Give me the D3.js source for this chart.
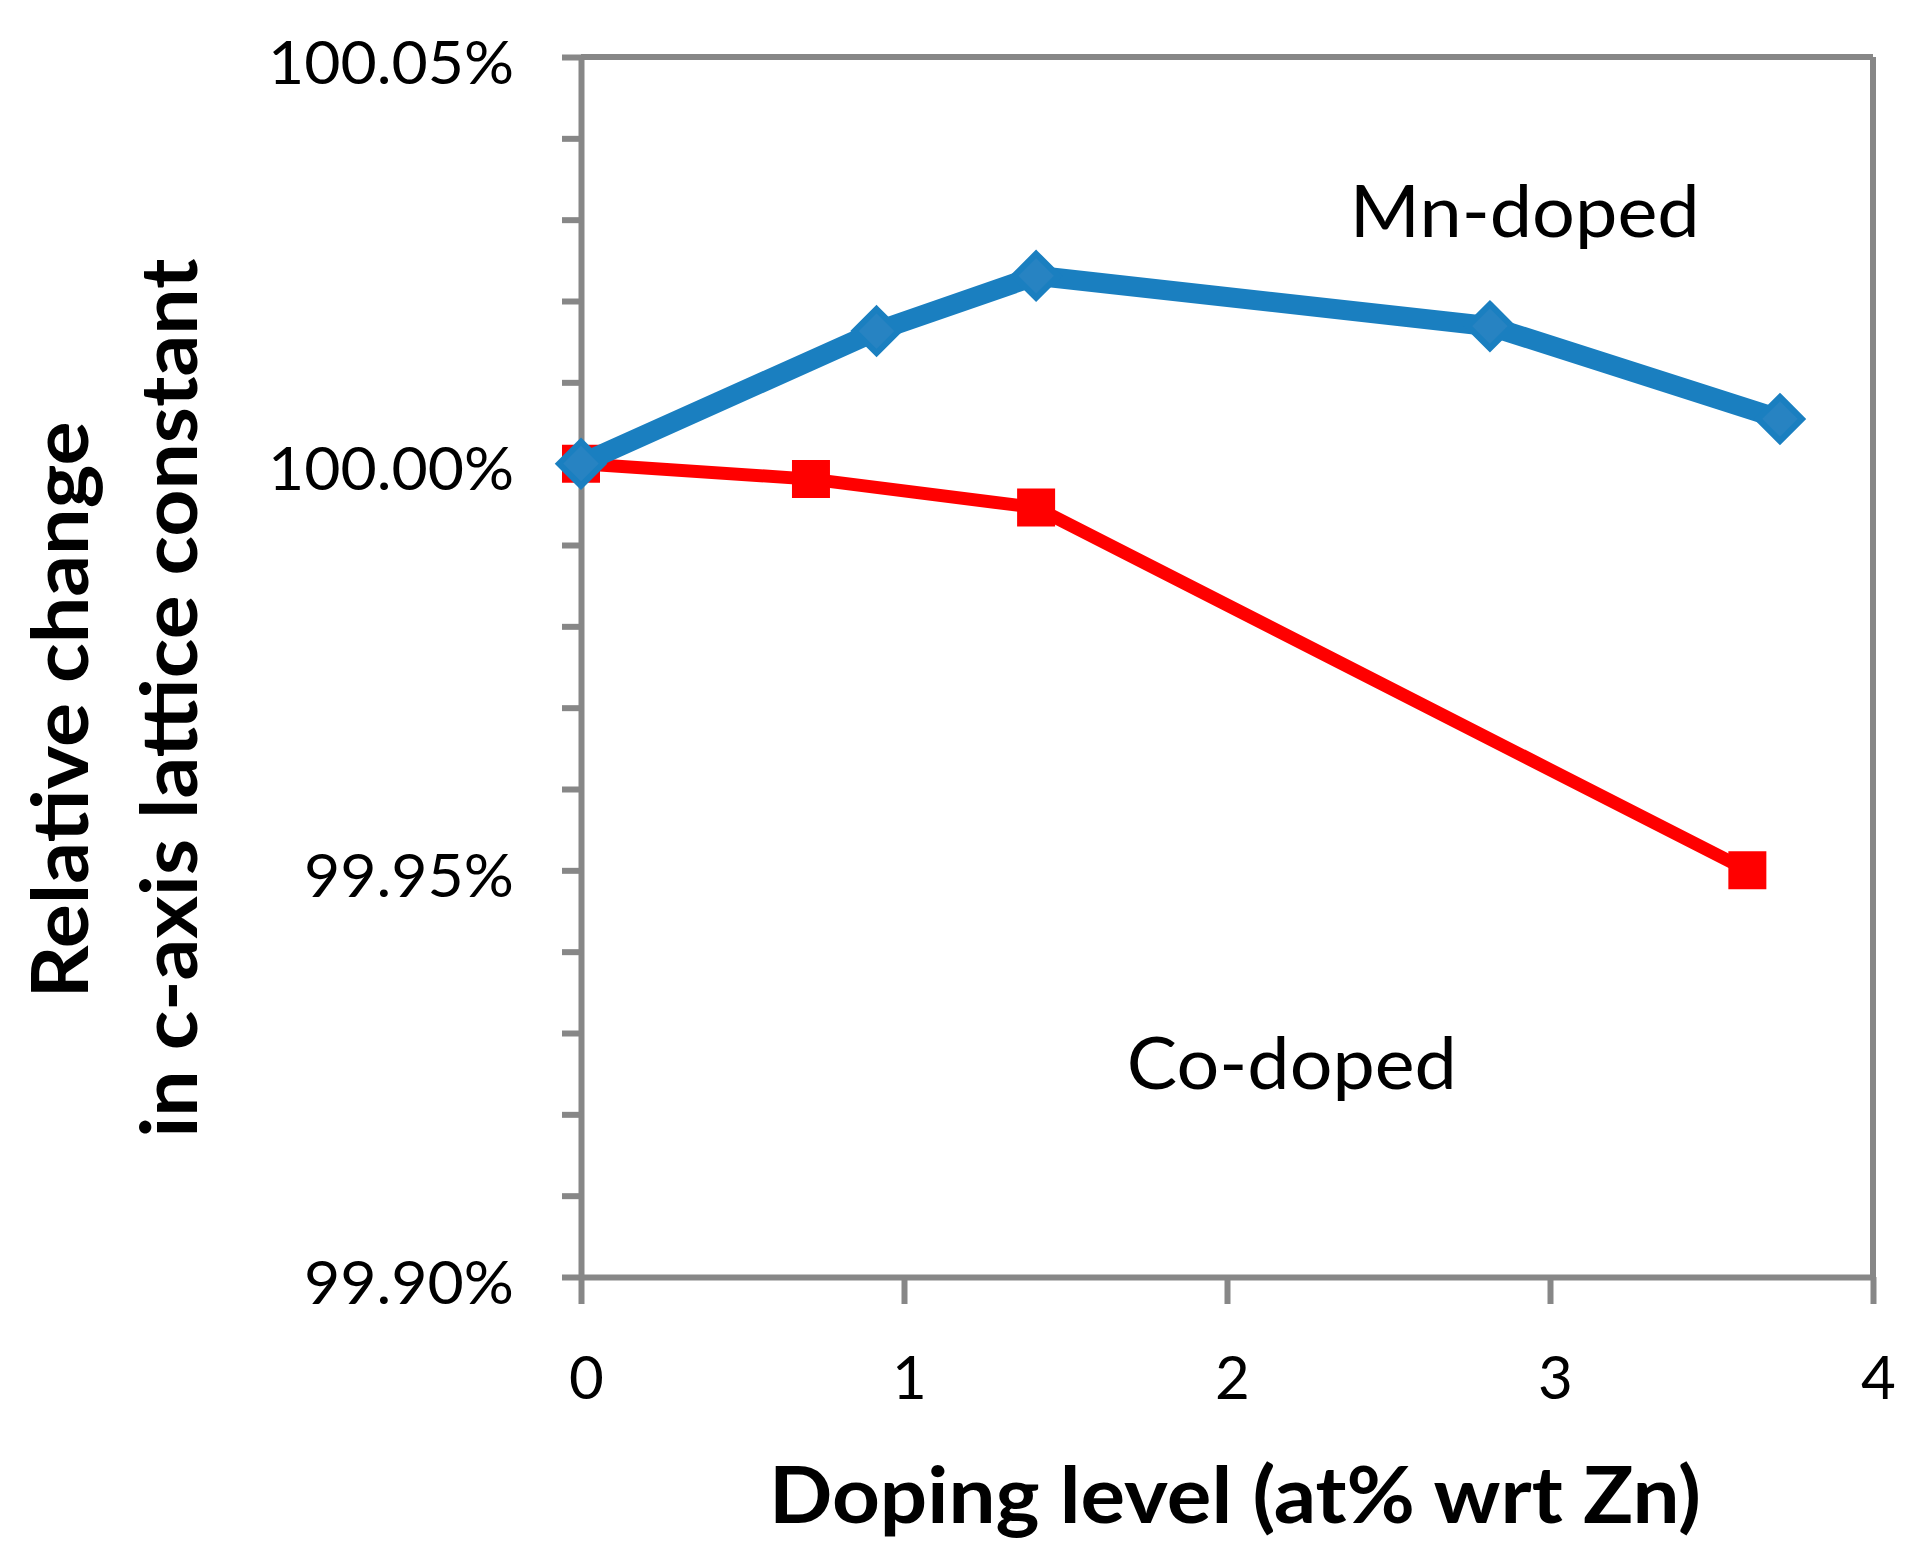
<!DOCTYPE html>
<html>
<head>
<meta charset="utf-8">
<script src="https://cdn.jsdelivr.net/npm/d3@7"></script>
<style>
  html, body { margin: 0; padding: 0; background: #ffffff; }
  svg { display: block; }
  text { font-family: Lato, "Open Sans", sans-serif; fill: #000; }
</style>
</head>
<body>
<svg id="chart" width="1919" height="1560"></svg>
<script>
// ---- data ----
const mnX = [0, 0.915, 1.409, 2.814, 3.712];
const mnY = [100.000, 100.0163, 100.0231, 100.0169, 100.0055];
const coX = [0, 0.712, 1.409, 3.611];
const coY = [100.000, 99.9981, 99.9946, 99.9500];
const xTicks = [0, 1, 2, 3, 4];
const xTickLabels = ["0", "1", "2", "3", "4"];
const yTicks = [99.90, 99.91, 99.92, 99.93, 99.94, 99.95, 99.96, 99.97, 99.98, 99.99,
                100.00, 100.01, 100.02, 100.03, 100.04, 100.05];
const yMajor = [99.90, 99.95, 100.00, 100.05];
const yMajorLabels = ["99.90%", "99.95%", "100.00%", "100.05%"];
const seriesNames = ["Mn-doped", "Co-doped"];
const seriesLabelPos = [[2.38, 100.0279], [1.69, 99.9231]];
const xTitle = "Doping level (at% wrt Zn)";
const yTitle = ["Relative change", "in c-axis lattice constant"];

// ---- layout ----
const svg = d3.select("#chart");
const L = 581, R = 1873, T = 57, B = 1277;
const axisColor = "#878787";
const blue = "#1a7fc0", blueFill = "#2783c2", red = "#ff0000";

const x = d3.scaleLinear().domain([0, 4]).range([L, R]);
const y = d3.scaleLinear().domain([99.90, 100.05]).range([B, T]);

// plot border (top & right)
const border = svg.append("g");
border.append("line").attr("x1", x(0)).attr("x2", x(4)).attr("y1", y(100.05)).attr("y2", y(100.05))
  .attr("stroke", axisColor).attr("stroke-width", 6);
border.append("line").attr("x1", x(4)).attr("x2", x(4)).attr("y1", y(100.05)).attr("y2", y(99.90))
  .attr("stroke", axisColor).attr("stroke-width", 6);

// y axis
const labelOf = d => {
  const i = yMajor.findIndex(v => Math.abs(v - d) < 1e-9);
  return i >= 0 ? yMajorLabels[i] : "";
};
const yAxis = svg.append("g").attr("transform", `translate(${L},0)`)
  .call(d3.axisLeft(y).tickValues(yTicks).tickSize(19).tickSizeOuter(0).tickPadding(48).tickFormat(labelOf));
yAxis.select(".domain").attr("stroke", axisColor).attr("stroke-width", 6);
yAxis.selectAll(".tick line").attr("stroke", axisColor).attr("stroke-width", 6);
yAxis.selectAll(".tick text")
  .attr("dy", 26).attr("font-size", 60).attr("fill", "#000")
  .style("font-family", "Lato, sans-serif")
  .each(function(d) {
    const t = labelOf(d);
    if (t) d3.select(this).attr("textLength", t.length === 7 ? 246 : 210).attr("lengthAdjust", "spacingAndGlyphs");
  });

// x axis
const xAxis = svg.append("g").attr("transform", `translate(0,${B})`)
  .call(d3.axisBottom(x).tickValues(xTicks).tickSize(27).tickSizeOuter(0)
    .tickFormat((d, i) => xTickLabels[i]));
xAxis.select(".domain").attr("stroke", axisColor).attr("stroke-width", 6);
xAxis.selectAll(".tick line").attr("stroke", axisColor).attr("stroke-width", 6);
xAxis.selectAll(".tick text")
  .attr("y", 122).attr("dy", 0).attr("dx", 5).attr("font-size", 60).attr("fill", "#000")
  .style("font-family", "Lato, sans-serif");

// ---- series ----
const coData = coX.map((v, i) => [v, coY[i]]);
const mnData = mnX.map((v, i) => [v, mnY[i]]);
const line = d3.line().x(d => x(d[0])).y(d => y(d[1]));

// Co-doped (under)
svg.append("path").datum(coData).attr("d", line)
  .attr("fill", "none").attr("stroke", red).attr("stroke-width", 13)
  .attr("stroke-linejoin", "round").attr("stroke-linecap", "round");
const sq = d3.symbol().type(d3.symbolSquare).size(38 * 38);
svg.append("g").selectAll("path").data(coData).join("path")
  .attr("d", sq).attr("transform", d => `translate(${x(d[0])},${y(d[1])})`)
  .attr("fill", red);

// Mn-doped (on top)
svg.append("path").datum(mnData).attr("d", line)
  .attr("fill", "none").attr("stroke", blue).attr("stroke-width", 20)
  .attr("stroke-linejoin", "round").attr("stroke-linecap", "round");
const diamond = "M0,-22L22,0L0,22L-22,0Z";
svg.append("g").selectAll("path").data(mnData).join("path")
  .attr("d", diamond).attr("transform", d => `translate(${x(d[0])},${y(d[1])})`)
  .attr("fill", blueFill).attr("stroke", blue).attr("stroke-width", 6).attr("stroke-linejoin", "miter");

// series labels
const labelLens = [350, 330];
svg.append("g").selectAll("text").data(seriesNames).join("text")
  .attr("x", (d, i) => x(seriesLabelPos[i][0]))
  .attr("y", (d, i) => y(seriesLabelPos[i][1]))
  .attr("font-size", 72)
  .attr("textLength", (d, i) => labelLens[i]).attr("lengthAdjust", "spacingAndGlyphs")
  .text(d => d);

// axis titles
svg.append("text")
  .attr("x", 1235).attr("y", 1523).attr("text-anchor", "middle")
  .attr("font-size", 78).attr("font-weight", "bold")
  .attr("textLength", 932).attr("lengthAdjust", "spacingAndGlyphs")
  .text(xTitle);

const yTitlePos = [[88, 710, 577], [197, 698, 879]];
svg.append("g").selectAll("text").data(yTitle).join("text")
  .attr("transform", (d, i) => `translate(${yTitlePos[i][0]},${yTitlePos[i][1]}) rotate(-90)`)
  .attr("text-anchor", "middle")
  .attr("font-size", 78).attr("font-weight", "bold")
  .attr("textLength", (d, i) => yTitlePos[i][2]).attr("lengthAdjust", "spacingAndGlyphs")
  .text(d => d);
</script>
</body>
</html>
